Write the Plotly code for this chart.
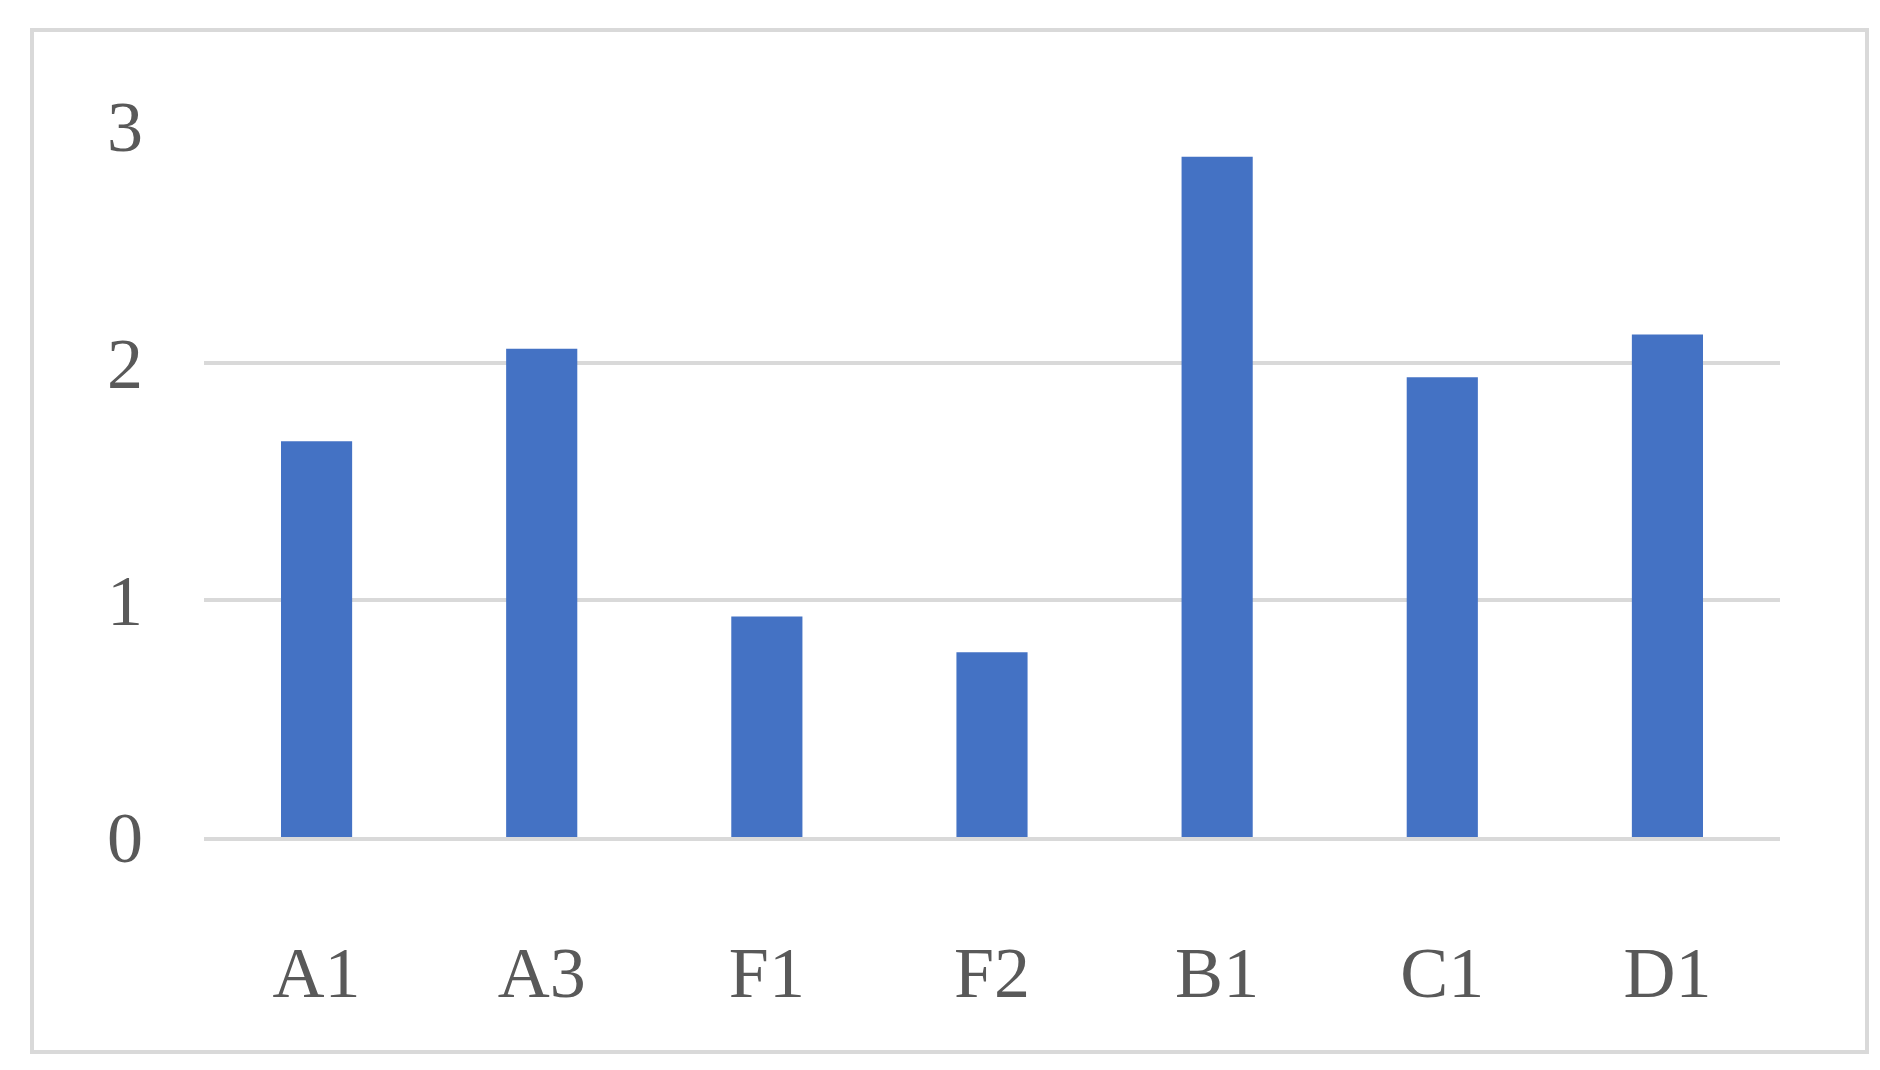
import plotly.graph_objects as go

categories = ["A1", "A3", "F1", "F2", "B1", "C1", "D1"]
values = [1.67, 2.06, 0.93, 0.78, 2.87, 1.94, 2.12]
y_ticks = [0, 1, 2, 3]

fig = go.Figure(go.Bar(x=categories, y=values, marker_color="#4472C4", marker_line_width=0))
font = dict(family="Liberation Serif, DejaVu Serif, serif", size=72, color="#595959")
fig.update_layout(
    width=1880, height=1070, paper_bgcolor="white", plot_bgcolor="white",
    margin=dict(l=196, r=108, t=118, b=241), bargap=0.684, showlegend=False,
    font=font,
    xaxis=dict(showgrid=False, showline=True, linecolor="#d9d9d9", linewidth=4,
               ticks="", ticklabelstandoff=70, tickfont=font),
    yaxis=dict(range=[0, 3], tickvals=y_ticks, showgrid=True, gridcolor="#d9d9d9",
               gridwidth=4, zeroline=False, showline=False, ticks="",
               ticklabelstandoff=60, tickfont=font),
    shapes=[dict(type="rect", xref="paper", yref="paper",
                 x0=(24-196)/1576, x1=(1859-196)/1576,
                 y0=-(1044-829)/711, y1=1+(118-22)/711,
                 line=dict(color="#d9d9d9", width=4), layer="below")],
)
fig.write_html("out.html")
